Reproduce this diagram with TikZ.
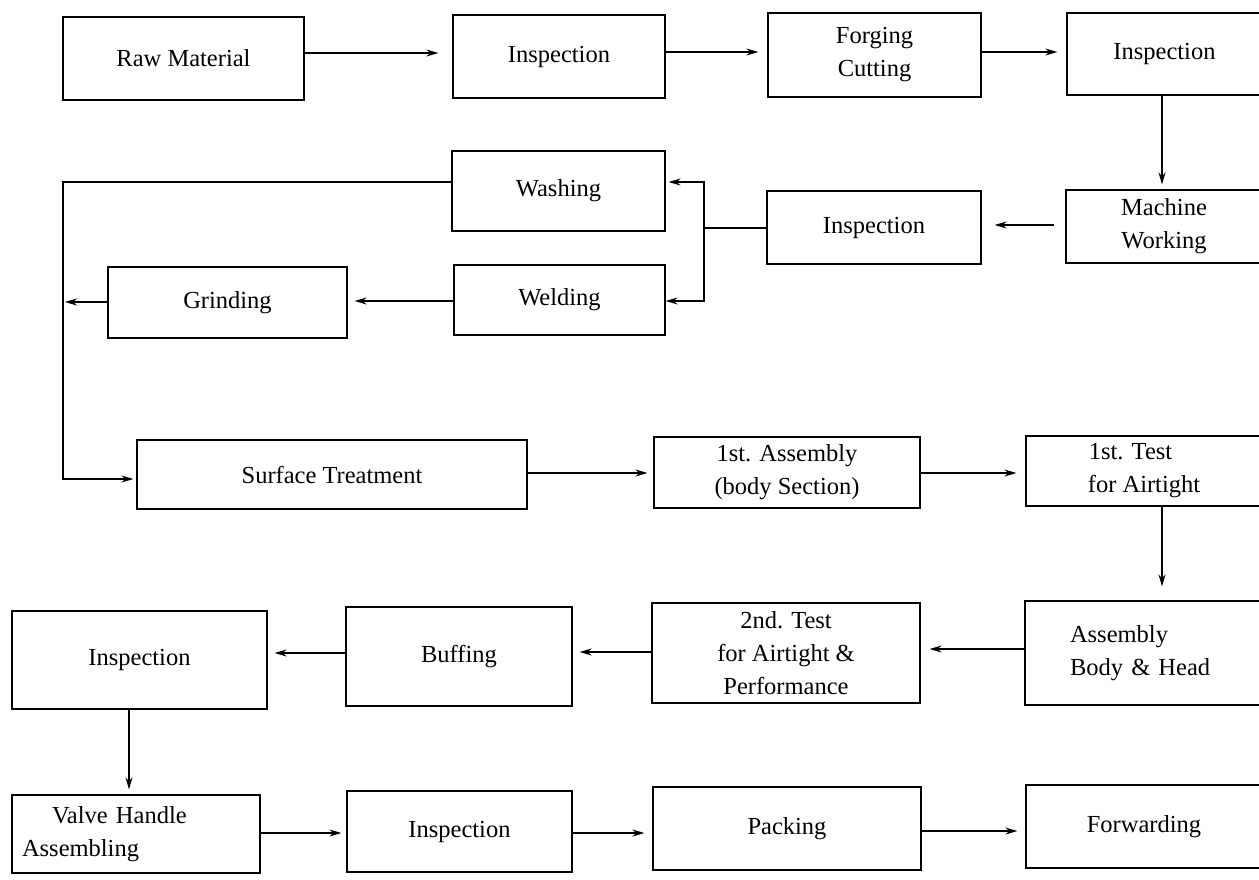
\documentclass[tikz,border=0pt]{standalone}
\usepackage{fontspec}
\setmainfont{Liberation Serif}
\usetikzlibrary{arrows.meta}
\begin{document}
\begin{tikzpicture}[x=1pt,y=-1pt,
  box/.style={draw, line width=1.2pt, inner sep=0pt, align=center,
    font=\fontsize{24.5}{33}\selectfont},
  arr/.style={-{Stealth[length=12pt,width=7pt]}, line width=1.2pt},
  link/.style={line width=1.2pt}]
\useasboundingbox (0,0) rectangle (1259,879);
\clip (0,0) rectangle (1259,879);

% --- row 1
\node[box, minimum width=241pt, minimum height=83pt] (raw)   at (183.5,58.5) {Raw Material};
\node[box, minimum width=212pt, minimum height=83pt] (insA)  at (559,56.5)   {Inspection};
\node[box, minimum width=213pt, minimum height=84pt] (forg)  at (874.5,55)   {Forging\\Cutting};
\node[box, minimum width=195pt, minimum height=82pt] (insB)  at (1164.5,54)  {Inspection};
% --- row 2
\node[box, minimum width=196pt, minimum height=73pt] (mach)  at (1164,226.5) {Machine\\Working};
\node[box, minimum width=214pt, minimum height=73pt] (insC)  at (874,227.5)  {Inspection};
\node[box, minimum width=213pt, minimum height=80pt] (wash)  at (558.5,191)  {Washing};
\node[box, minimum width=211pt, minimum height=70pt] (weld)  at (559.5,300)  {Welding};
\node[box, minimum width=239pt, minimum height=71pt] (grind) at (227.5,302.5) {Grinding};
% --- row 3
\node[box, minimum width=390pt, minimum height=69pt] (surf)  at (332,474.5)  {Surface Treatment};
\node[box, minimum width=266pt, minimum height=71pt] (asm)   at (787,472.5)  {1st. Assembly\\(body Section)};
\node[box, minimum width=236pt, minimum height=70pt, align=left] (testA) at (1144,471) {\hspace*{1pt}1st. Test\\for Airtight};
% --- row 4
\node[box, minimum width=237pt, minimum height=104pt, text width=147pt, align=left] (bh) at (1143.5,653) {Assembly\\Body \& Head\\[6pt]};
\node[box, minimum width=268pt, minimum height=100pt] (testB) at (786,653)  {2nd. Test\\for Airtight \&\\Performance};
\node[box, minimum width=226pt, minimum height=99pt]  (buff)  at (459,656.5) {Buffing};
\node[box, minimum width=255pt, minimum height=98pt]  (insD)  at (139.5,660) {Inspection};
% --- row 5
\node[box, minimum width=248pt, minimum height=78pt, text width=228pt, align=left] (valve) at (136,834) {\hspace*{30pt}Valve Handle\\Assembling};
\node[box, minimum width=225pt, minimum height=81pt]  (insE)  at (459.5,831.5) {Inspection};
\node[box, minimum width=268pt, minimum height=83pt]  (pack)  at (787,828.5) {Packing};
\node[box, minimum width=236pt, minimum height=83pt]  (fwd)   at (1144,826.5) {Forwarding};

% branch and return points
\coordinate (jn) at (704,228);
\coordinate (lu) at (63,182);
\coordinate (ld) at (63,479);
\coordinate (gj) at (63,302);

% --- connectors
\draw[arr, shorten >=14pt] (raw.east |- 0,53) -- (insA.west |- 0,53);
\draw[arr, shorten >=9pt]  (insA.east |- 0,52) -- (forg.west |- 0,52);
\draw[arr, shorten >=9pt]  (forg.east |- 0,52) -- (insB.west |- 0,52);
\draw[arr, shorten >=5pt]  (1162,0 |- insB.south) -- (1162,0 |- mach.north);
\draw[arr, shorten <=11pt, shorten >=13pt] (mach.west |- 0,225) -- (insC.east |- 0,225);
\draw[link] (insC.west |- 0,228) -- (jn);
\draw[arr, shorten >=3pt] (jn) |- (wash.east |- 0,182);
\draw[arr] (jn) |- (weld.east |- 0,301);
\draw[arr, shorten >=7pt] (weld.west |- 0,301) -- (grind.east |- 0,301);
\draw[arr, shorten >=2pt] (grind.west |- 0,302) -- (gj);
\draw[arr, shorten >=3pt] (wash.west |- 0,182) -- (lu) -- (ld) -- (surf.west |- 0,479);
\draw[arr, shorten >=6pt] (surf.east |- 0,473) -- (asm.west |- 0,473);
\draw[arr, shorten >=9pt] (asm.east |- 0,473) -- (testA.west |- 0,473);
\draw[arr, shorten >=14pt] (1162,0 |- testA.south) -- (1162,0 |- bh.north);
\draw[arr, shorten >=9pt] (bh.west |- 0,649) -- (testB.east |- 0,649);
\draw[arr, shorten >=7pt] (testB.west |- 0,652) -- (buff.east |- 0,652);
\draw[arr, shorten >=7pt] (buff.west |- 0,653) -- (insD.east |- 0,653);
\draw[arr, shorten >=5pt] (129,0 |- insD.south) -- (129,0 |- valve.north);
\draw[arr, shorten >=5pt] (valve.east |- 0,833) -- (insE.west |- 0,833);
\draw[arr, shorten >=8pt] (insE.east |- 0,833) -- (pack.west |- 0,833);
\draw[arr, shorten >=8pt] (pack.east |- 0,831) -- (fwd.west |- 0,831);
\end{tikzpicture}
\end{document}
